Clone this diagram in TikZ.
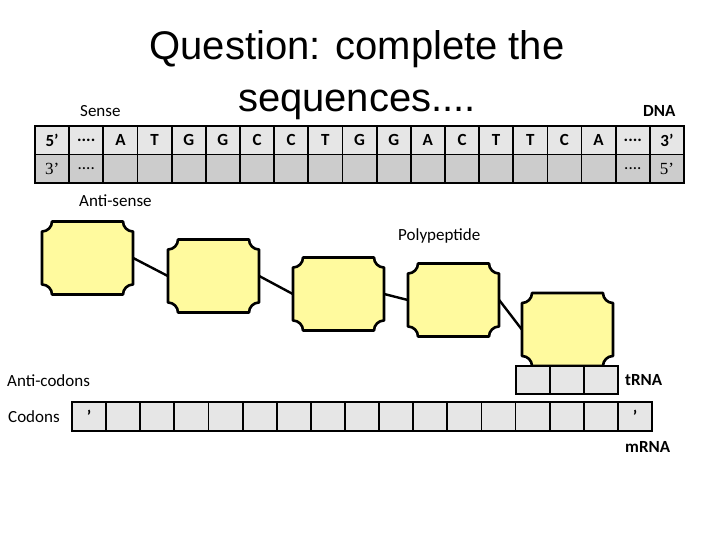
\documentclass[tikz,border=0pt]{standalone}
\usepackage{fontspec}
\setmainfont{Carlito}
\newfontfamily\titlefont{Liberation Sans}
\newfontfamily\seriffont{Liberation Serif}
\definecolor{acidfill}{HTML}{FFFA9E}
\definecolor{lightcell}{HTML}{E6E6E6}
\definecolor{darkcell}{HTML}{CCCCCC}

\newcommand\fourdots{....}
% one amino acid: a box with hollowed corners, named #1, centred at (#2,#3)
\newcommand\aminoacid[3]{%
  \begin{scope}[shift={(#2,#3)}]
    \draw[acidline] (-35.5,-36.5) -- (35.5,-36.5)
      .. controls (35.5,-31) and (40,-26.5) .. (45.5,-26.5) -- (45.5,26.5)
      .. controls (40,26.5) and (35.5,31) .. (35.5,36.5) -- (-35.5,36.5)
      .. controls (-35.5,31) and (-40,26.5) .. (-45.5,26.5) -- (-45.5,-26.5)
      .. controls (-40,-26.5) and (-35.5,-31) .. (-35.5,-36.5) -- cycle;
    \node[acid] (#1) at (0,0) {};
  \end{scope}}

\begin{document}
\begin{tikzpicture}[
  x=1pt,
  y=-1pt,
  every node/.style={font=\fontsize{17}{20}\selectfont},
  tag/.style={anchor=west, inner sep=0pt},
  boldtag/.style={tag, font=\fontsize{17}{20}\selectfont\bfseries},
  sensecell/.style={draw, fill=lightcell, line width=1.8pt, minimum width=34.16,
                    minimum height=28.5, inner sep=0pt,
                    font=\fontsize{17}{20}\selectfont\bfseries},
  anticell/.style={draw, fill=darkcell, line width=1.8pt, minimum width=34.16,
                   minimum height=28.5, inner sep=0pt},
  rnacell/.style={draw, fill=lightcell, line width=1.8pt, minimum width=34.12,
                  minimum height=29, inner sep=0pt,
                  font=\fontsize{17}{20}\selectfont\bfseries},
  acidline/.style={draw=black, fill=acidfill, line width=2.6pt, line join=round},
  acid/.style={minimum width=91, minimum height=73, inner sep=0pt},
  bond/.style={line width=2.4pt}
]
  \useasboundingbox (0,0) rectangle (720,540);

  % ---- title ----
  \node[align=center, font=\titlefont\fontsize{40}{52}\selectfont] (title)
    at (357,75) {Question: complete the\\sequences....};

  % ---- the two DNA strands ----
  \foreach \t [count=\i] in {5’,\fourdots,A,T,G,G,C,C,T,G,G,A,C,T,T,C,A,\fourdots,3’}
    \node[sensecell] (sen\i) at ({35+34.16*(\i-0.5)},140.25) {\t};
  \foreach \t [count=\i] in {{\seriffont 3’},\fourdots,{},{},{},{},{},{},{},{},{},{},{},{},{},{},{},\fourdots,{\seriffont 5’}}
    \node[anticell] (ant\i) at ({35+34.16*(\i-0.5)},168.75) {\t};

  \node[tag]     (sense) at (80,111)  {Sense};
  \node[tag]     (anti)  at (79,201)  {Anti-sense};
  \node[boldtag] (dna)   at (643,111) {DNA};

  % ---- polypeptide chain ----
  \aminoacid{aa1}{87.5}{258}
  \aminoacid{aa2}{213.5}{276}
  \aminoacid{aa3}{338.5}{294}
  \aminoacid{aa4}{453.5}{300}
  \aminoacid{aa5}{567.5}{329.5}
  \foreach \a/\b in {1/2, 2/3, 3/4, 4/5}
    \draw[bond] (aa\a.east) -- (aa\b.west);
  \node[tag] (poly) at (398,236) {Polypeptide};

  % ---- tRNA under the last amino acid ----
  \foreach \i in {1,2,3}
    \node[rnacell, minimum height=28] (trna\i) at ({516+34*(\i-0.5)},380) {};
  \node[boldtag] (trnatag) at (625,380) {tRNA};

  % ---- mRNA codons ----
  \foreach \t [count=\i] in {’,{},{},{},{},{},{},{},{},{},{},{},{},{},{},{},’}
    \node[rnacell] (cod\i) at ({72+34.12*(\i-0.5)},416.5) {\t};
  \node[tag]     (anticod) at (7,381)   {Anti-codons};
  \node[tag]     (codtag)  at (8,417)   {Codons};
  \node[boldtag] (mrna)    at (625,447) {mRNA};
\end{tikzpicture}
\end{document}
